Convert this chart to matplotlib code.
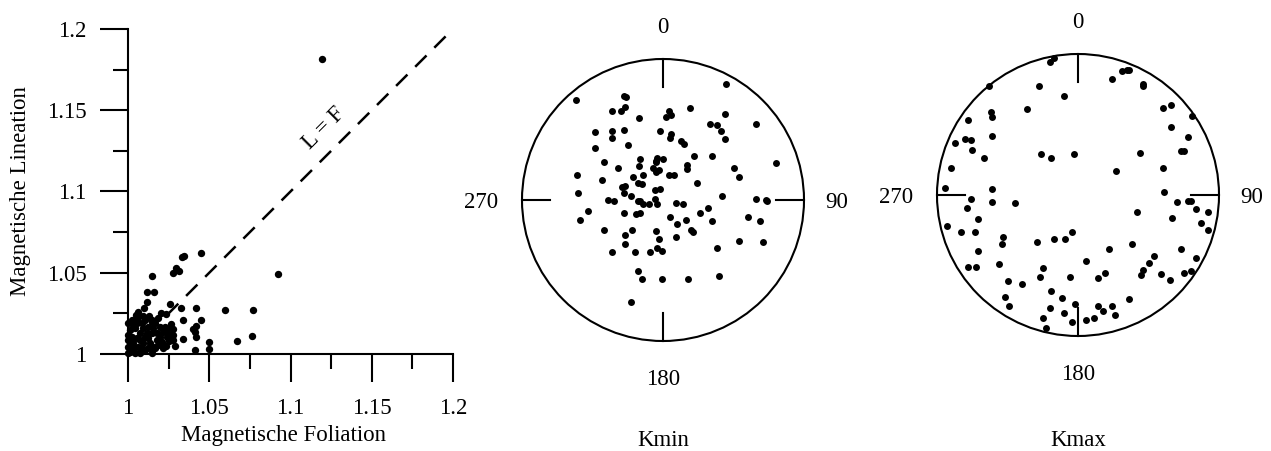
import matplotlib
matplotlib.use('Agg')
import matplotlib.pyplot as plt
from matplotlib.patches import Circle

plt.rcParams['font.family'] = ['Liberation Serif', 'DejaVu Serif']
plt.rcParams['font.size'] = 16.5

# Magnetic foliation (x) vs lineation (y)
fol = [1.0332, 1.0347, 1.0447, 1.0150, 1.0279, 1.0295, 1.0312, 1.0921, 1.0119, 1.0158,
       1.0119, 1.0098, 1.0258, 1.0203, 1.0232, 1.0328, 1.0421, 1.0599, 1.0769, 1.0338,
       1.0447, 1.0418, 1.0398, 1.0412, 1.0418, 1.0338, 1.0501, 1.0501, 1.0669, 1.0761,
       1.0410, 1.0265, 1.0238, 1.0279, 1.0279, 1.0289, 1.0232, 1.0217, 1.0254, 1.1192,
       1.0064, 1.0049, 1.0105, 1.0053, 1.0033, 1.0012, 1.0000, 1.0000, 1.0000, 1.0012,
       1.0043, 1.0074, 1.0105, 1.0146, 1.0156, 1.0176, 1.0197, 1.0217, 1.0197, 1.0166,
       1.0146, 1.0125, 1.0094, 1.0074, 1.0053, 1.0033, 1.0064, 1.0094, 1.0125, 1.0146,
       1.0115, 1.0084, 1.0043, 1.0023, 1.0012, 1.0074, 1.0105, 1.0135, 1.0166, 1.0187,
       1.0207, 1.0238, 1.0228, 1.0156, 1.0176, 1.0033, 1.0002, 1.0125, 1.0084, 1.0053,
       1.0187, 1.0150, 1.0279, 1.0252, 1.0217, 1.0064, 1.0002, 1.0023, 1.0131, 1.0090]
lin = [1.0595, 1.0605, 1.0619, 1.0482, 1.0501, 1.0529, 1.0511, 1.0492, 1.0382, 1.0382,
       1.0320, 1.0281, 1.0306, 1.0254, 1.0248, 1.0281, 1.0281, 1.0271, 1.0271, 1.0211,
       1.0211, 1.0170, 1.0156, 1.0137, 1.0107, 1.0090, 1.0074, 1.0033, 1.0082, 1.0111,
       1.0025, 1.0183, 1.0152, 1.0117, 1.0086, 1.0049, 1.0049, 1.0035, 1.0082, 1.1813,
       1.0261, 1.0240, 1.0209, 1.0209, 1.0178, 1.0148, 1.0117, 1.0086, 1.0045, 1.0014,
       1.0004, 1.0004, 1.0025, 1.0004, 1.0045, 1.0086, 1.0107, 1.0137, 1.0168, 1.0189,
       1.0199, 1.0168, 1.0158, 1.0127, 1.0096, 1.0066, 1.0045, 1.0066, 1.0096, 1.0127,
       1.0127, 1.0189, 1.0158, 1.0107, 1.0076, 1.0086, 1.0107, 1.0066, 1.0035, 1.0055,
       1.0076, 1.0107, 1.0168, 1.0158, 1.0127, 1.0035, 1.0004, 1.0035, 1.0035, 1.0189,
       1.0219, 1.0209, 1.0152, 1.0121, 1.0049, 1.0230, 1.0189, 1.0209, 1.0234, 1.0234]
ticks = [1, 1.05, 1.1, 1.15, 1.2]
tick_labels = ['1', '1.05', '1.1', '1.15', '1.2']
minor_ticks = [1.025, 1.075, 1.125, 1.175]

# Stereonet positions (east, north), unit radius
kmin_e = [-0.62, -0.28, -0.26, -0.27, -0.36, -0.30, -0.17, 0.04, 0.02, 0.06, 0.19, 0.45, 0.44,
          0.33, 0.38, 0.41, 0.44, 0.66, -0.48, -0.36, -0.28, -0.36, -0.02, 0.06, 0.05, 0.13,
          0.15, -0.48, -0.25, -0.42, -0.16, -0.32, -0.17, -0.05, -0.04, 0.00, -0.05, 0.22,
          0.35, 0.17, 0.17, 0.50, 0.54, 0.80, -0.61, -0.43, -0.21, -0.14, -0.07, -0.05, -0.03,
          0.04, 0.08, -0.18, -0.15, 0.24, -0.60, -0.29, -0.27, -0.28, -0.23, -0.06, -0.02,
          0.42, -0.39, -0.35, -0.18, -0.16, -0.14, -0.10, -0.06, -0.04, 0.09, 0.14, 0.66,
          0.73, 0.74, -0.53, -0.59, -0.28, -0.19, -0.16, 0.05, 0.10, 0.16, 0.26, 0.32, 0.35,
          0.20, 0.21, 0.60, 0.69, -0.42, -0.22, -0.05, -0.27, -0.03, 0.09, -0.27, 0.54, 0.71,
          0.38, -0.36, -0.20, -0.09, -0.04, -0.01, -0.18, -0.15, -0.01, 0.18, 0.40, -0.23]
kmin_n = [0.71, 0.74, 0.73, 0.66, 0.63, 0.63, 0.58, 0.63, 0.59, 0.60, 0.65, 0.82, 0.61,
          0.54, 0.53, 0.49, 0.43, 0.54, 0.48, 0.49, 0.50, 0.44, 0.49, 0.47, 0.44, 0.42,
          0.40, 0.37, 0.39, 0.27, 0.29, 0.23, 0.24, 0.28, 0.30, 0.29, 0.27, 0.31,
          0.31, 0.25, 0.22, 0.23, 0.16, 0.26, 0.18, 0.14, 0.16, 0.18, 0.23, 0.20, 0.21,
          0.18, 0.18, 0.12, 0.11, 0.12, 0.05, 0.09, 0.10, 0.05, 0.03, 0.07, 0.08,
          0.03, 0.00, -0.01, -0.01, -0.01, -0.03, -0.03, 0.01, -0.03, -0.02, -0.03, 0.01,
          0.00, -0.01, -0.08, -0.14, -0.09, -0.10, -0.09, -0.12, -0.17, -0.14, -0.09, -0.06, -0.15,
          -0.21, -0.23, -0.12, -0.15, -0.21, -0.21, -0.22, -0.25, -0.28, -0.26, -0.31, -0.29, -0.30,
          -0.34, -0.37, -0.37, -0.37, -0.34, -0.36, -0.50, -0.56, -0.56, -0.56, -0.54, -0.72]

kmax_e = [-0.20, -0.17, -0.63, -0.28, -0.10, 0.24, 0.31, 0.35, 0.36, 0.46, 0.46, -0.36, -0.62,
          -0.61, -0.78, 0.60, 0.66, 0.81, 0.66, -0.80, -0.76, -0.61, -0.87, -0.75, 0.78, 0.73,
          0.75, -0.67, -0.26, -0.19, -0.03, 0.44, -0.90, 0.27, 0.60, -0.94, -0.61, 0.61,
          -0.76, -0.79, -0.61, -0.45, -0.71, -0.93, -0.83, -0.73, -0.53, -0.54, -0.71, -0.78,
          -0.72, -0.56, -0.50, -0.40, -0.52, -0.49, -0.29, -0.17, -0.09, -0.04, -0.25, -0.27,
          -0.06, 0.06, 0.22, 0.38, 0.14, 0.19, -0.19, -0.11, -0.02, -0.20, -0.10, -0.25, -0.04,
          -0.23, 0.14, 0.18, 0.24, 0.26, 0.06, 0.11, 0.36, 0.45, 0.46, 0.50, 0.54, 0.59, 0.65,
          0.73, 0.75, 0.80, 0.84, 0.42, 0.67, 0.70, 0.78, 0.80, 0.84, 0.92, 0.87, 0.92]
kmax_n = [0.94, 0.97, 0.77, 0.77, 0.70, 0.82, 0.88, 0.89, 0.89, 0.79, 0.77, 0.61, 0.59,
          0.55, 0.53, 0.62, 0.64, 0.56, 0.48, 0.40, 0.39, 0.42, 0.37, 0.32, 0.41, 0.31,
          0.31, 0.26, 0.29, 0.26, 0.29, 0.30, 0.19, 0.17, 0.19, 0.05, 0.04, 0.02,
          -0.03, -0.09, -0.05, -0.06, -0.17, -0.22, -0.26, -0.26, -0.30, -0.35, -0.40, -0.51,
          -0.51, -0.49, -0.61, -0.63, -0.72, -0.79, -0.33, -0.31, -0.31, -0.26, -0.52, -0.58,
          -0.58, -0.47, -0.38, -0.35, -0.59, -0.55, -0.68, -0.73, -0.77, -0.80, -0.84, -0.87, -0.90,
          -0.94, -0.79, -0.82, -0.79, -0.85, -0.89, -0.87, -0.74, -0.57, -0.53, -0.48, -0.43, -0.56, -0.60,
          -0.38, -0.55, -0.54, -0.45, -0.12, -0.16, -0.05, -0.04, -0.04, -0.10, -0.12, -0.20, -0.25]

W, H = 1271, 451
fig = plt.figure(figsize=(W / 100, H / 100), dpi=100)

# left: lineation vs foliation
ax = fig.add_axes([128 / W, 97 / H, 325 / W, 325 / H])
ax.plot([1.024, 1.2], [1.024, 1.2], color='k', lw=1.8, dashes=(6.4, 4.4))
ax.plot(fol, lin, 'o', color='k', ms=5.3, mec='none', clip_on=False)
ax.set_xlim(1, 1.2)
ax.set_ylim(1, 1.2)
for s in ['top', 'right']:
    ax.spines[s].set_visible(False)
for s in ['left', 'bottom']:
    ax.spines[s].set_linewidth(1.5)
ax.set_xticks(ticks)
ax.set_xticklabels(tick_labels)
ax.set_yticks(ticks)
ax.set_yticklabels(tick_labels)
ax.set_xticks(minor_ticks, minor=True)
ax.set_yticks(minor_ticks, minor=True)
ax.tick_params(which='major', direction='out', length=20, width=1.5)
ax.tick_params(which='minor', direction='out', length=10.5, width=1.5)
ax.tick_params(axis='x', which='major', pad=12)
ax.tick_params(axis='y', which='major', pad=10)
ax.text(0.477, -0.25, 'Magnetische Foliation', transform=ax.transAxes, ha='center', va='center')
ax.text(-0.332, 0.5, 'Magnetische Lineation', transform=ax.transAxes, ha='center', va='center',
        rotation=90)
ax.text(1.1206, 1.1389, 'L = F', rotation=45, ha='center', va='center')


def stereonet(cx, cy, east, north, name):
    R = 141
    size = 2.4 * R
    a = fig.add_axes([(cx - size / 2) / W, (H - cy - size / 2) / H, size / W, size / H])
    a.set_xlim(-1.2, 1.2)
    a.set_ylim(-1.2, 1.2)
    a.axis('off')
    a.add_patch(Circle((0, 0), 1, fill=False, lw=1.5, color='k'))
    for dx, dy in [(0, 1), (1, 0), (0, -1), (-1, 0)]:
        a.plot([dx, 0.8 * dx], [dy, 0.8 * dy], color='k', lw=1.5)
    a.plot(east, north, 'o', color='k', ms=5.0, mec='none')
    a.text(0, 1.22, '0', ha='center', va='center')
    a.text(0, -1.27, '180', ha='center', va='center')
    a.text(1.15, -0.02, '90', ha='left', va='center')
    a.text(-1.17, -0.02, '270', ha='right', va='center')
    a.text(0, (cy - 441) / R, name, ha='center', va='center')


stereonet(663, 200, kmin_e, kmin_n, 'Kmin')
stereonet(1078, 195, kmax_e, kmax_n, 'Kmax')

fig.savefig('out.png', dpi=100)
